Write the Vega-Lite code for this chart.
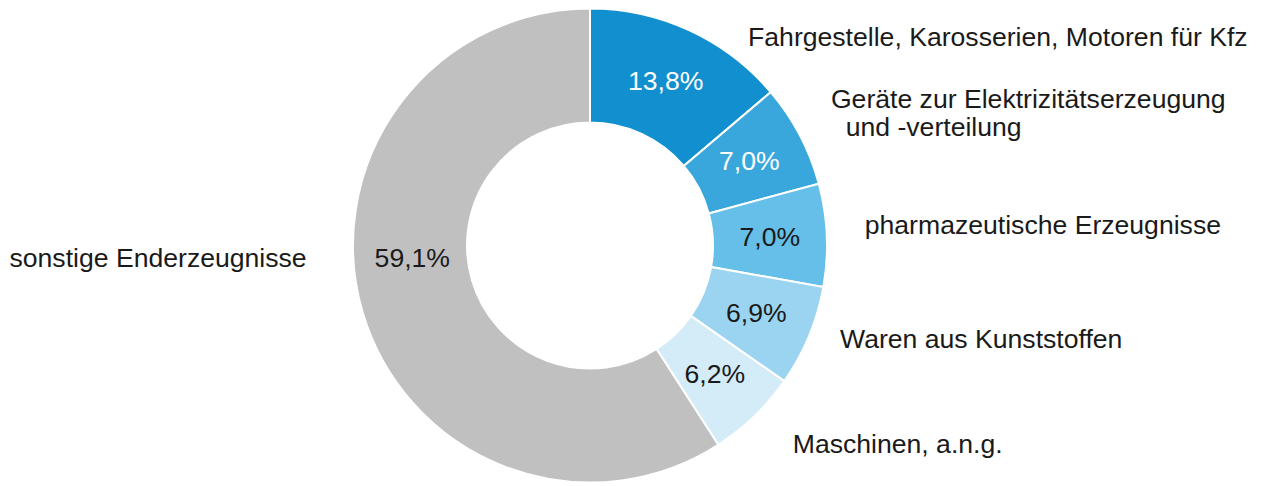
{
  "$schema": "https://vega.github.io/schema/vega-lite/v6.json",
  "width": 1180,
  "height": 481,
  "autosize": {"type": "none"},
  "padding": {"left": 0, "right": 81, "top": 5, "bottom": 0},
  "background": "white",
  "config": {
    "view": {"stroke": null},
    "locale": {"number": {"decimal": ",", "thousands": ".", "grouping": [3], "currency": ["", " €"]}},
    "text": {"font": "Liberation Sans", "fontSize": 26.6, "color": "#1a1a1a", "baseline": "middle"}
  },
  "data": {
    "values": [
      {"idx": 1, "cat": "Fahrgestelle, Karosserien, Motoren für Kfz", "share": 0.138},
      {"idx": 2, "cat": "Geräte zur Elektrizitätserzeugung\n\u200b\u00a0\u00a0und -verteilung", "share": 0.070},
      {"idx": 3, "cat": "pharmazeutische Erzeugnisse", "share": 0.070},
      {"idx": 4, "cat": "Waren aus Kunststoffen", "share": 0.069},
      {"idx": 5, "cat": "Maschinen, a.n.g.", "share": 0.062},
      {"idx": 6, "cat": "sonstige Enderzeugnisse", "share": 0.591}
    ]
  },
  "encoding": {
    "theta": {"field": "share", "type": "quantitative", "stack": true},
    "order": {"field": "idx", "type": "quantitative"}
  },
  "layer": [
    {
      "mark": {"type": "arc", "outerRadius": 237, "innerRadius": 123, "stroke": "white", "strokeWidth": 2},
      "encoding": {
        "color": {
          "field": "idx", "type": "nominal", "legend": null,
          "scale": {"domain": [1, 2, 3, 4, 5, 6], "range": ["#128fcf", "#3aa7dc", "#66bfe8", "#9bd4f1", "#d4ebf8", "#c0c0c0"]}
        }
      }
    },
    {
      "mark": {"type": "text", "radius": 180, "align": "center"},
      "encoding": {
        "text": {"condition": {"test": "datum.idx <= 5", "field": "share", "format": ".1%"}, "value": ""},
        "color": {"condition": {"test": "datum.idx <= 2", "value": "white"}, "value": "#1a1a1a"}
      }
    },
    {
      "mark": {"type": "text", "radius": 180, "align": "center", "dx": -5, "dy": -37},
      "encoding": {
        "text": {"condition": {"test": "datum.idx === 6", "field": "share", "format": ".1%"}, "value": ""}
      }
    },
    {
      "mark": {"type": "text", "radius": 262, "align": "left", "dx": 48, "dy": 30},
      "encoding": {"text": {"condition": {"test": "datum.idx === 1", "field": "cat"}, "value": ""}}
    },
    {
      "mark": {"type": "text", "radius": 262, "align": "left", "dx": 9, "dy": -24, "lineBreak": "\n", "lineHeight": 28},
      "encoding": {"text": {"condition": {"test": "datum.idx === 2", "field": "cat"}, "value": ""}}
    },
    {
      "mark": {"type": "text", "radius": 262, "align": "left", "dx": 13, "dy": -8},
      "encoding": {"text": {"condition": {"test": "datum.idx === 3", "field": "cat"}, "value": ""}}
    },
    {
      "mark": {"type": "text", "radius": 262, "align": "left", "dx": 8, "dy": -6},
      "encoding": {"text": {"condition": {"test": "datum.idx === 4", "field": "cat"}, "value": ""}}
    },
    {
      "mark": {"type": "text", "radius": 262, "align": "left", "dx": 21, "dy": 11},
      "encoding": {"text": {"condition": {"test": "datum.idx === 5", "field": "cat"}, "value": ""}}
    },
    {
      "mark": {"type": "text", "radius": 262, "align": "right", "dx": -32, "dy": -60},
      "encoding": {"text": {"condition": {"test": "datum.idx === 6", "field": "cat"}, "value": ""}}
    }
  ]
}
